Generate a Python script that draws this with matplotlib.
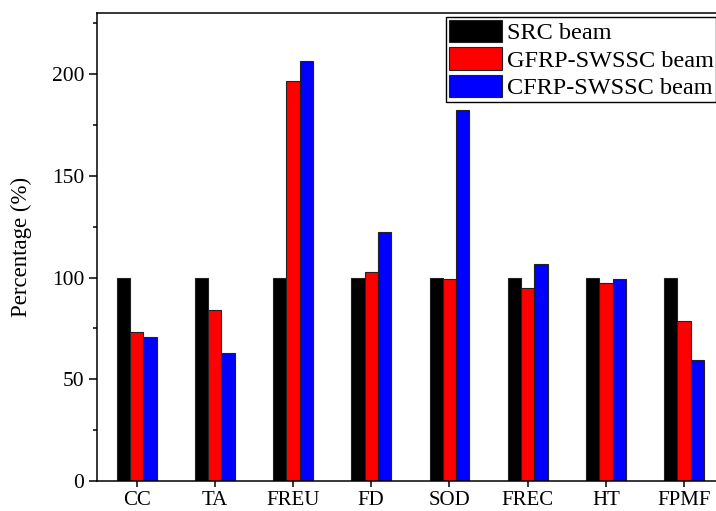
import matplotlib
matplotlib.use("Agg")
import matplotlib.pyplot as plt
import numpy as np
from matplotlib.ticker import MultipleLocator

categories = ["CC", "TA", "FREU", "FD", "SOD", "FREC", "HT", "FPMF"]
src_beam = [100, 100, 100, 100, 100, 100, 100, 100]
gfrp_beam = [73.5, 84.0, 196.6, 102.6, 99.1, 94.9, 97.5, 78.9]
cfrp_beam = [70.6, 63.1, 206.4, 122.5, 182.4, 106.7, 99.1, 59.7]
series_labels = ["SRC beam", "GFRP-SWSSC beam", "CFRP-SWSSC beam"]
colors = ["#000000", "#ff0000", "#0000ff"]

plt.rcParams['font.family'] = ['Liberation Serif', 'DejaVu Serif']

fig = plt.figure(figsize=(7.16, 5.11), dpi=100)
ax = fig.add_axes([96.7/716, 1-481/511, (724-96.7)/716, (481-13.3)/511])

x = np.arange(len(categories))
w = 0.17
for i, (vals, lab, c) in enumerate(zip([src_beam, gfrp_beam, cfrp_beam], series_labels, colors)):
    ax.bar(x + (i-1)*w, vals, width=w, color=c, edgecolor="#222222", linewidth=0.8, label=lab, zorder=2)

ax.set_xlim(-0.51, 7.51)
ax.set_ylim(0, 230)
ax.set_xticks(x)
ax.set_xticklabels(categories, fontsize=15)
ax.yaxis.set_major_locator(MultipleLocator(50))
ax.yaxis.set_minor_locator(MultipleLocator(25))
ax.tick_params(axis='y', which='major', direction='out', length=5.5, width=1.1, labelsize=15.5)
ax.tick_params(axis='y', which='minor', direction='out', length=3, width=1.1)
ax.tick_params(axis='x', which='major', direction='out', length=4.5, width=1.1, pad=3)
ax.tick_params(axis='x', which='minor', bottom=False)
for s in ax.spines.values():
    s.set_linewidth(1.1)
ax.set_ylabel("Percentage (%)", fontsize=16.5, labelpad=14)

leg = fig.legend(loc='upper left', bbox_to_anchor=(446/716, 1-16.7/511), fontsize=17.5,
                 frameon=True, fancybox=False, shadow=False, framealpha=1,
                 edgecolor='#000000', handlelength=2.2, handleheight=1.05,
                 labelspacing=0.12, handletextpad=0.17, borderpad=0.12,
                 borderaxespad=0)
leg.get_frame().set_linewidth(1.0)

fig.savefig("out.png", dpi=100)
